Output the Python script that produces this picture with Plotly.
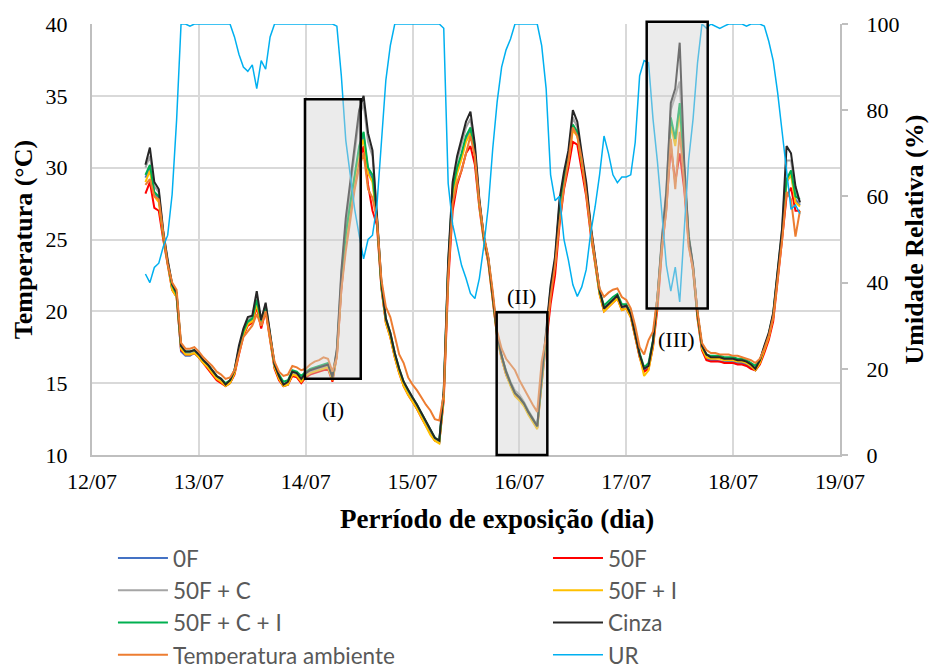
import plotly.graph_objects as go

# ---------------- data (hourly readings, hours since 12/07 00:00) ----------------
HORAS = list(range(12, 160))

T_0F = [29.3, 30.0, 28.2, 27.9, 25.3, 23.3, 21.6, 21.1, 17.2, 16.9, 16.9, 17.1, 16.8, 16.4, 16.1, 15.7, 15.3, 15.1, 14.8, 15.0,
        15.7, 17.2, 18.5, 19.2, 19.4, 20.6, 19.1, 20.2, 18.1, 16.1, 15.3, 14.8, 14.9, 15.6, 15.5, 15.1, 15.5, 15.7, 15.8, 15.9,
        16.0, 16.1, 15.2, 17.0, 21.8, 25.2, 27.4, 29.2, 31.2, 32.2, 29.8, 29.2, 26.4, 21.7, 19.3, 18.3, 16.9, 15.8, 14.9, 14.3,
        13.8, 13.3, 12.7, 12.1, 11.5, 11.1, 10.9, 14.1, 22.9, 28.2, 29.8, 30.8, 32.0, 32.6, 30.9, 27.5, 25.1, 23.6, 21.1, 18.3,
        16.8, 15.7, 14.9, 14.2, 13.9, 13.5, 12.9, 12.4, 11.9, 15.2, 18.3, 21.4, 23.4, 27.2, 29.1, 30.6, 32.8, 32.3, 30.4, 28.5,
        25.7, 23.6, 21.3, 20.1, 20.4, 20.7, 21.0, 20.2, 20.3, 19.7, 18.4, 16.9, 15.9, 16.1, 17.7, 20.8, 24.6, 27.8, 33.2, 31.8,
        34.2, 29.3, 25.1, 23.0, 19.7, 17.4, 16.7, 16.6, 16.6, 16.5, 16.5, 16.5, 16.5, 16.4, 16.4, 16.3, 16.1, 15.9, 16.4, 17.3,
        18.2, 19.6, 22.4, 25.4, 29.0, 29.6, 27.8, 27.4]

T_50F = [28.2, 29.0, 27.2, 27.0, 25.0, 23.1, 21.5, 21.0, 17.3, 17.0, 17.0, 17.1, 16.8, 16.4, 16.0, 15.6, 15.2, 15.0, 14.8, 15.0,
         15.6, 17.0, 18.3, 19.0, 19.2, 20.3, 18.8, 20.0, 18.0, 16.0, 15.2, 14.8, 14.9, 15.5, 15.4, 15.0, 15.4, 15.6, 15.7, 15.8,
         15.9, 16.0, 15.1, 16.9, 21.5, 24.8, 27.0, 28.6, 30.4, 31.5, 28.8, 27.0, 26.0, 21.6, 19.2, 18.2, 16.8, 15.7, 14.8, 14.2,
         13.7, 13.2, 12.6, 12.0, 11.5, 11.0, 10.9, 13.8, 22.0, 27.0, 28.8, 29.8, 31.0, 31.5, 30.2, 27.2, 24.9, 23.4, 21.0, 18.2,
         16.7, 15.6, 14.9, 14.2, 13.9, 13.5, 12.9, 12.4, 11.9, 15.0, 18.0, 20.5, 22.5, 26.0, 28.5, 30.0, 31.8, 31.6, 29.8, 28.0,
         25.4, 23.4, 21.2, 20.0, 20.3, 20.6, 20.9, 20.1, 20.2, 19.6, 18.3, 16.8, 15.8, 16.0, 17.5, 20.2, 24.2, 27.2, 31.5, 29.0,
         31.0, 28.5, 24.8, 22.8, 19.5, 17.3, 16.6, 16.5, 16.5, 16.5, 16.4, 16.4, 16.4, 16.3, 16.3, 16.2, 16.0, 15.9, 16.3, 17.1,
         18.0, 19.3, 22.0, 25.0, 28.0, 28.6, 27.0, 27.0]

T_50F_C = [30.0, 30.8, 28.7, 28.3, 25.5, 23.5, 21.8, 21.2, 17.5, 17.1, 17.1, 17.2, 16.9, 16.5, 16.2, 15.8, 15.4, 15.2, 14.9, 15.1,
           15.8, 17.4, 18.6, 19.4, 19.6, 21.0, 19.3, 20.5, 18.3, 16.2, 15.4, 14.9, 15.0, 15.7, 15.6, 15.2, 15.6, 15.8, 15.9, 16.0,
           16.1, 16.2, 15.3, 17.3, 22.5, 26.0, 28.5, 31.0, 33.5, 34.5, 31.8, 30.8, 26.8, 22.0, 19.4, 18.4, 17.0, 15.9, 15.0, 14.4,
           13.9, 13.4, 12.8, 12.2, 11.6, 11.1, 10.9, 14.3, 23.3, 28.8, 30.5, 31.6, 32.8, 33.4, 31.3, 27.7, 25.1, 23.6, 21.1, 18.3,
           16.9, 15.9, 15.1, 14.5, 14.2, 13.7, 13.1, 12.6, 12.0, 15.6, 18.4, 21.6, 23.6, 27.5, 29.4, 31.0, 33.5, 32.8, 30.8, 28.8,
           25.9, 23.7, 21.4, 20.2, 20.5, 20.8, 21.1, 20.3, 20.4, 19.8, 18.5, 17.0, 16.0, 16.2, 17.9, 21.0, 25.2, 28.5, 34.0, 35.0,
           36.0, 30.0, 25.4, 23.2, 19.8, 17.6, 17.0, 16.8, 16.8, 16.8, 16.7, 16.7, 16.7, 16.6, 16.6, 16.5, 16.3, 16.0, 16.5, 17.5,
           18.4, 19.8, 22.7, 25.7, 30.5, 30.5, 28.3, 27.5]

T_50F_I = [29.0, 29.8, 28.0, 27.6, 25.2, 23.2, 21.5, 21.0, 17.4, 17.0, 17.0, 17.1, 16.8, 16.4, 16.1, 15.7, 15.3, 15.1, 14.8, 15.0,
           15.7, 17.2, 18.4, 19.1, 19.3, 20.5, 19.0, 20.1, 18.1, 16.1, 15.3, 14.8, 14.9, 15.6, 15.5, 15.1, 15.5, 15.7, 15.8, 15.9,
           16.0, 16.1, 15.2, 17.0, 21.8, 25.0, 27.2, 29.0, 31.0, 32.0, 29.6, 29.0, 26.3, 21.7, 19.2, 18.2, 16.8, 15.7, 14.8, 14.2,
           13.7, 13.2, 12.6, 12.0, 11.4, 11.0, 10.8, 14.0, 22.8, 28.0, 29.6, 30.6, 31.8, 32.4, 30.8, 27.4, 25.0, 23.5, 21.0, 18.2,
           16.7, 15.6, 14.8, 14.1, 13.8, 13.4, 12.8, 12.3, 11.8, 15.0, 18.2, 21.3, 23.3, 27.0, 29.0, 30.5, 32.6, 32.2, 30.3, 28.4,
           25.6, 23.5, 21.2, 20.0, 20.3, 20.6, 20.9, 20.1, 20.2, 19.6, 18.3, 16.8, 15.5, 15.9, 17.6, 20.6, 24.5, 27.6, 33.0, 31.5,
           34.0, 29.2, 25.0, 22.9, 19.6, 17.4, 16.8, 16.7, 16.7, 16.7, 16.6, 16.6, 16.6, 16.5, 16.5, 16.4, 16.2, 15.9, 16.4, 17.3,
           18.2, 19.6, 22.4, 25.3, 29.0, 29.5, 27.6, 27.3]

T_50F_C_I = [29.5, 30.2, 28.3, 28.0, 25.4, 23.4, 21.8, 21.2, 17.6, 17.2, 17.2, 17.3, 17.0, 16.6, 16.3, 15.9, 15.5, 15.3, 15.0, 15.2,
             15.9, 17.4, 18.6, 19.3, 19.5, 20.8, 19.3, 20.4, 18.3, 16.3, 15.6, 15.1, 15.2, 15.9, 15.8, 15.5, 15.8, 16.0, 16.1, 16.2,
             16.3, 16.4, 15.5, 17.2, 22.0, 25.4, 27.5, 29.5, 31.5, 32.5, 30.0, 29.5, 26.5, 21.8, 19.5, 18.5, 17.1, 16.0, 15.1, 14.5,
             14.0, 13.5, 12.9, 12.3, 11.7, 11.2, 11.0, 14.4, 23.2, 28.5, 30.0, 31.0, 32.2, 32.8, 31.0, 27.6, 25.2, 23.7, 21.2, 18.4,
             16.9, 15.8, 15.0, 14.3, 14.0, 13.6, 13.0, 12.5, 12.0, 15.3, 18.4, 21.5, 23.5, 27.3, 29.2, 30.8, 33.0, 32.5, 30.5, 28.6,
             25.8, 23.7, 21.4, 20.4, 20.7, 21.0, 21.2, 20.5, 20.5, 19.9, 18.6, 17.1, 16.1, 16.4, 18.0, 21.0, 24.8, 28.0, 33.5, 32.0,
             34.5, 29.5, 25.2, 23.1, 19.8, 17.6, 17.0, 16.9, 16.9, 16.9, 16.8, 16.8, 16.8, 16.7, 16.7, 16.6, 16.4, 16.2, 16.6, 17.5,
             18.4, 19.8, 22.6, 25.5, 29.2, 29.8, 28.0, 27.8]

T_CINZA = [30.2, 31.4, 29.0, 28.5, 25.6, 23.5, 21.9, 21.3, 17.6, 17.2, 17.2, 17.3, 17.0, 16.6, 16.3, 15.9, 15.5, 15.3, 14.9, 15.2,
           15.9, 17.6, 18.8, 19.6, 19.7, 21.4, 19.4, 20.6, 18.4, 16.3, 15.5, 14.9, 15.1, 15.8, 15.7, 15.3, 15.7, 15.9, 16.0, 16.1,
           16.2, 16.3, 15.4, 17.4, 22.8, 26.5, 29.0, 31.4, 34.0, 35.0, 32.4, 31.2, 26.8, 22.0, 19.5, 18.5, 17.1, 16.0, 15.1, 14.5,
           14.0, 13.5, 12.9, 12.3, 11.7, 11.2, 11.0, 14.5, 23.5, 29.0, 30.8, 32.0, 33.2, 33.9, 31.6, 27.8, 25.2, 23.7, 21.2, 18.4,
           16.9, 15.8, 15.0, 14.3, 14.0, 13.6, 13.0, 12.5, 12.0, 15.5, 18.5, 21.8, 23.8, 27.8, 29.7, 31.2, 34.0, 33.2, 31.0, 29.0,
           26.0, 23.8, 21.5, 20.2, 20.5, 20.8, 21.1, 20.3, 20.4, 19.8, 18.5, 17.0, 16.0, 16.2, 17.9, 21.0, 25.0, 28.3, 34.5, 35.5,
           38.7, 30.5, 25.2, 23.2, 19.8, 17.6, 17.0, 16.8, 16.8, 16.8, 16.7, 16.7, 16.7, 16.6, 16.6, 16.5, 16.3, 16.0, 16.6, 17.6,
           18.5, 19.9, 22.8, 25.8, 31.5, 31.0, 28.7, 27.6]

T_AMBIENTE = [28.8, 29.2, 28.0, 27.8, 25.5, 23.3, 22.0, 21.5, 17.8, 17.4, 17.4, 17.5, 17.2, 16.8, 16.5, 16.2, 15.8, 15.6, 15.3, 15.4,
              15.9, 17.0, 18.2, 18.6, 19.0, 19.8, 19.0, 20.0, 18.2, 16.5, 15.8, 15.5, 15.6, 16.2, 16.1, 15.9, 16.0, 16.3, 16.5, 16.6,
              16.8, 16.7, 15.8, 16.8, 21.5, 24.2, 26.3, 28.5, 30.0, 31.0, 28.5, 27.9, 26.4, 22.2, 20.3, 19.6, 18.3, 17.0, 16.4, 15.4,
              14.9, 14.5, 14.0, 13.5, 13.1, 12.5, 12.4, 14.2, 22.5, 27.5, 29.0, 29.8, 31.0, 32.2, 30.8, 27.6, 25.3, 23.8, 21.4, 18.6,
              17.4, 16.7, 16.3, 15.9, 15.2, 14.6, 14.0, 13.5, 13.0, 16.5, 18.2, 21.0, 23.2, 26.2, 28.6, 30.5, 32.8, 32.2, 30.6, 28.0,
              25.8, 23.6, 21.6, 21.0, 21.3, 21.5, 21.6, 21.0, 20.8, 20.2, 19.0, 17.5, 17.0, 18.0, 18.6, 21.0, 24.5, 27.0, 32.0, 28.5,
              32.5, 29.0, 24.5, 23.0, 20.0, 17.8, 17.3, 17.1, 17.1, 17.0, 17.0, 17.0, 16.9, 16.9, 16.8, 16.7, 16.6, 16.4, 16.7, 17.4,
              18.3, 19.6, 22.3, 25.0, 28.3, 27.8, 25.2, 27.0]

UR = [42.0, 40.0, 43.5, 44.5, 48.3, 51.0, 60.5, 77.7, 100.0, 100.0, 99.5, 100.0, 100.0, 100.0, 100.0, 100.0, 100.0, 100.0, 100.0, 100.0,
      97.0, 93.0, 90.0, 89.0, 90.5, 85.0, 91.5, 89.5, 97.0, 100.0, 100.0, 100.0, 100.0, 100.0, 100.0, 100.0, 100.0, 100.0, 100.0, 100.0,
      100.0, 100.0, 100.0, 99.5, 88.0, 73.0, 65.5, 57.0, 51.0, 45.5, 50.0, 51.0, 58.0, 72.5, 87.0, 95.0, 100.0, 100.0, 100.0, 100.0,
      100.0, 100.0, 100.0, 100.0, 100.0, 100.0, 100.0, 99.0, 63.0, 53.5, 49.0, 44.0, 41.0, 37.5, 36.3, 41.0, 48.5, 57.6, 71.0, 82.0,
      90.0, 94.0, 96.5, 100.0, 100.0, 100.0, 100.0, 100.0, 100.0, 95.0, 85.0, 65.0, 59.0, 60.0, 50.0, 45.2, 39.5, 36.8, 39.0, 43.0,
      51.5, 57.6, 65.0, 74.0, 70.0, 65.0, 63.2, 64.5, 64.5, 65.0, 72.5, 88.0, 91.5, 91.0, 78.0, 68.0, 56.0, 44.0, 38.0, 43.6,
      35.5, 51.0, 68.4, 78.0, 91.0, 100.0, 99.0, 100.0, 99.5, 99.0, 99.5, 100.0, 100.0, 100.0, 100.0, 99.5, 100.0, 100.0, 100.0, 99.5,
      96.0, 91.5, 84.0, 75.0, 66.0, 57.0, 58.0, 56.0]

TICK_DIAS = [0, 1, 2, 3, 4, 5, 6, 7]
TICK_TEXTO = ["12/07", "13/07", "14/07", "15/07", "16/07", "17/07", "18/07", "19/07"]

# highlighted regions (day, temperature) and their labels
CAIXAS = [(1.993, 2.515, 15.3, 34.76), (3.787, 4.261, 10.0, 19.94), (5.191, 5.762, 20.19, 40.16)]
ROTULOS = [("(I)", 2.255, 13.2), ("(II)", 4.024, 21.05), ("(III)", 5.474, 18.05)]

# ---------------- figure ----------------
dias = [h / 24 for h in HORAS]
SERIF = "Liberation Serif, Times New Roman, serif"
SANS = "Lato, Carlito, Calibri, sans-serif"

series = [
    ("0F", T_0F, "#4472C4", "legend"),
    ("50F", T_50F, "#FF0000", "legend2"),
    ("50F + C", T_50F_C, "#A5A5A5", "legend"),
    ("50F + I", T_50F_I, "#FFC000", "legend2"),
    ("50F + C + I", T_50F_C_I, "#00B050", "legend"),
    ("Cinza", T_CINZA, "#262626", "legend2"),
    ("Temperatura ambiente", T_AMBIENTE, "#ED7D31", "legend"),
]

fig = go.Figure()
for nome, vals, cor, leg in series:
    fig.add_trace(go.Scatter(x=dias, y=vals, name=nome, mode="lines",
                             line=dict(color=cor, width=2), legend=leg, yaxis="y"))
fig.add_trace(go.Scatter(x=dias, y=UR, name="UR", mode="lines",
                         line=dict(color="#00B0F0", width=1.5), legend="legend2", yaxis="y2"))

shapes = []
for x0, x1, y0, y1 in CAIXAS:
    shapes.append(dict(type="rect", xref="paper", yref="paper",
                       x0=x0 / 7, x1=x1 / 7, y0=(y0 - 10) / 30, y1=(y1 - 10) / 30,
                       line=dict(color="black", width=2.5),
                       fillcolor="rgba(209,209,209,0.43)", layer="above"))

annotations = [dict(text=t, x=x, y=y, xref="x", yref="y", showarrow=False,
                    font=dict(family=SERIF, size=22, color="black")) for t, x, y in ROTULOS]
annotations.append(dict(text="Perríodo de exposição (dia)", x=0.5414, y=-0.1485,
                        xref="paper", yref="paper", showarrow=False,
                        xanchor="center", yanchor="middle",
                        font=dict(family=SERIF, size=27, color="black", weight="bold")))

fig.update_layout(
    width=933, height=664,
    margin=dict(l=92, r=93, t=24, b=209, autoexpand=False),
    paper_bgcolor="white", plot_bgcolor="white",
    showlegend=True,
    shapes=shapes, annotations=annotations,
    xaxis=dict(range=[0, 7], tickvals=TICK_DIAS, ticktext=TICK_TEXTO,
               showgrid=True, gridcolor="#D9D9D9", gridwidth=2,
               showline=True, linecolor="#BFBFBF", linewidth=2, zeroline=False,
               ticks="", ticklabelstandoff=6,
               tickfont=dict(family=SERIF, size=22, color="black")),
    yaxis=dict(range=[10, 40], dtick=5, tick0=10,
               showgrid=True, gridcolor="#D9D9D9", gridwidth=2,
               showline=True, linecolor="#BFBFBF", linewidth=2, zeroline=False,
               ticks="", ticklabelstandoff=18,
               tickfont=dict(family=SERIF, size=22, color="black"),
               title=dict(text="Temperatura (°C)", standoff=5,
                          font=dict(family=SERIF, size=26, color="black", weight="bold"))),
    yaxis2=dict(range=[0, 100], dtick=20, tick0=0, overlaying="y", side="right",
                showgrid=False, showline=True, linecolor="#BFBFBF", linewidth=2, zeroline=False,
                ticks="outside", ticklen=6, tickwidth=2, tickcolor="#BFBFBF", ticklabelstandoff=14,
                tickfont=dict(family=SERIF, size=22, color="black"),
                title=dict(text="Umidade Relativa (%)", standoff=6,
                           font=dict(family=SERIF, size=26, color="black", weight="bold"))),
    legend=dict(orientation="v", x=0.028, xanchor="left", y=-0.19, yanchor="top",
                font=dict(family=SANS, size=22.5, color="#595959"), itemwidth=50,
                bgcolor="rgba(0,0,0,0)"),
    legend2=dict(orientation="v", x=0.6096, xanchor="left", y=-0.19, yanchor="top",
                 font=dict(family=SANS, size=22.5, color="#595959"), itemwidth=50,
                 bgcolor="rgba(0,0,0,0)"),
)

fig.write_html("out.html")
